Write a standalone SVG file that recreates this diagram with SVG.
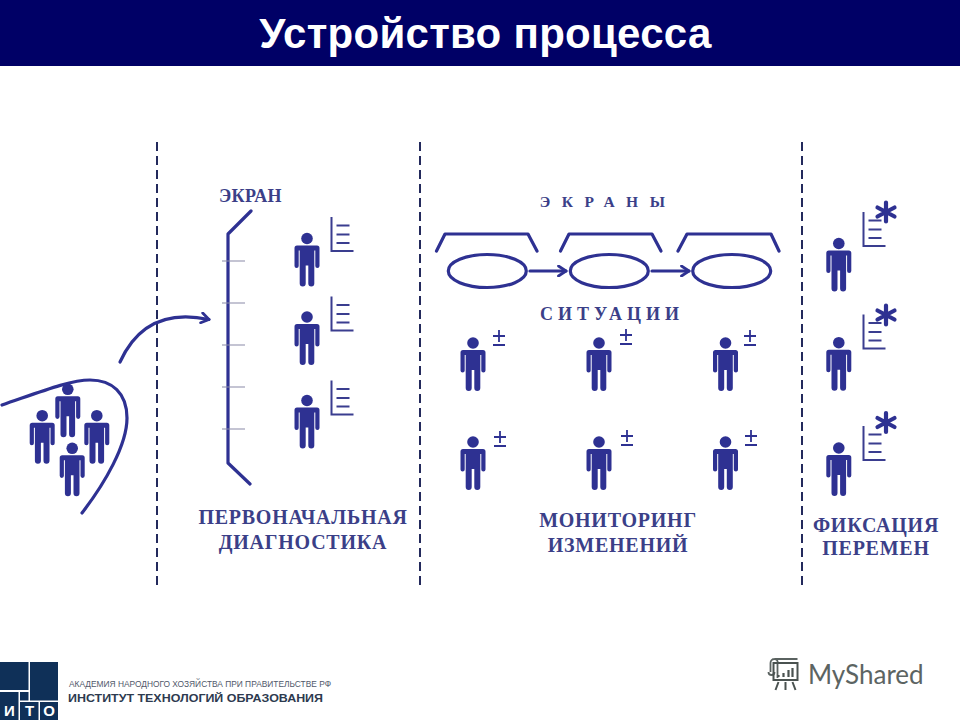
<svg xmlns="http://www.w3.org/2000/svg" width="960" height="720" viewBox="0 0 960 720">
<style>
.ink{fill:none;stroke:#2e3192;stroke-width:3.2;stroke-linecap:round;stroke-linejoin:round}
.tick{stroke:#8a8aa8;stroke-width:1.2;fill:none}
.dash{stroke:#232a5c;stroke-width:2;stroke-dasharray:9 5;fill:none}
.chart{fill:none;stroke:#3a3d8f;stroke-width:2}
.lab{font-family:"Liberation Serif",serif;font-weight:bold;fill:#3b3f88;text-anchor:middle}
.big{font-size:20px;letter-spacing:.75px}
.pm{fill:none;stroke:#2e3192;stroke-width:1.8}
.logo{fill:#0f3058}
.lt{font-family:"Liberation Sans",sans-serif;font-weight:bold;fill:#fff;font-size:15px;text-anchor:middle}
</style>
<defs>
<g id="person" fill="#2e3192">
<circle cx="0" cy="0" r="5.800"/>
<path d="M-12.500 9.500a2.500 2.500 0 0 1 2.500-2.500h20a2.500 2.500 0 0 1 2.500 2.500v18a2.100 2.100 0 0 1-4.200 0v-15.500h-1v33a3 3 0 0 1-6 0v-18h-2.600v18a3 3 0 0 1-6 0v-33h-1v15.500a2.100 2.100 0 0 1-4.200 0z"/>
</g>
<g id="chart">
<path class="chart" d="M0 0V34H22"/>
<path class="chart" d="M5 8.500H18M5 17.500H18M5 26H18"/>
</g>
<g id="pm">
<path class="pm" d="M0-6V6M-6 0H6M-6 9H6"/>
</g>
<g id="star" fill="none" stroke="#2e3192" stroke-width="4.200" stroke-linecap="round">
<path d="M0-9.500V9.500M-8.500-4.500L8.500 4.500M-8.500 4.500L8.500-4.500"/>
</g>
<marker id="ah" viewBox="0 0 12 12" refX="10.500" refY="6" markerWidth="12" markerHeight="12" markerUnits="userSpaceOnUse" orient="auto">
<path d="M3 1L10.500 6L3 11" fill="none" stroke="#2e3192" stroke-width="2.800" stroke-linecap="round" stroke-linejoin="round"/>
</marker>
</defs>
<rect width="960" height="720" fill="#fff"/>
<g id="header">
<rect width="960" height="66" fill="#000066"/>
<text x="485.500" y="48" font-family="Liberation Sans, sans-serif" font-weight="bold" font-size="42" letter-spacing=".28" fill="#fff" text-anchor="middle">Устройство процесса</text>
</g>
<g id="connectors">
<path class="dash" d="M157 142V585"/>
<path class="dash" d="M420 142V585"/>
<path class="dash" d="M802 142V585"/>
<path class="ink" d="M120 362C134 331 160 309 209 319.500" marker-end="url(#ah)"/>
<path class="ink" d="M530 271H566" marker-end="url(#ah)"/>
<path class="ink" d="M652 271H689" marker-end="url(#ah)"/>
</g>
<g id="group-left">
<path class="ink" d="M2 405C40 392 70 380 90 380C112 380 127 393 127 418C127 445 105 483 82 513"/>
<use href="#person" x="67.800" y="389.300"/>
<use href="#person" x="42.200" y="415.700"/>
<use href="#person" x="96.800" y="415.700"/>
<use href="#person" x="72.200" y="448.300"/>
</g>
<g id="screen">
<text class="lab" x="250.500" y="202" font-size="18" letter-spacing=".4">ЭКРАН</text>
<path class="ink" d="M251 211L228 234V463L250 484"/>
<path class="tick" d="M222 261H245M222 303H245M222 345H245M222 387H245M222 429H245"/>
</g>
<g id="people-1">
<use href="#person" x="307" y="238.500"/>
<use href="#chart" x="331.500" y="217"/>
<use href="#person" x="307" y="317"/>
<use href="#chart" x="331.500" y="296.500"/>
<use href="#person" x="307" y="400.500"/>
<use href="#chart" x="331.500" y="380.500"/>
</g>
<g id="label-1">
<text class="lab big" x="303" y="524">ПЕРВОНАЧАЛЬНАЯ</text>
<text class="lab big" x="303" y="549">ДИАГНОСТИКА</text>
</g>
<g id="screens">
<text class="lab" x="608" y="207" font-size="15.500" letter-spacing="11.500">ЭКРАНЫ</text>
<path class="ink" d="M436.500 251L445 234H528L537 251"/>
<path class="ink" d="M560.500 251L569 234H652L661 251"/>
<path class="ink" d="M678 251L687 234H771L779 251"/>
<ellipse class="ink" cx="487.300" cy="271" rx="39" ry="16.500"/>
<ellipse class="ink" cx="609.300" cy="271" rx="39" ry="16.500"/>
<ellipse class="ink" cx="731.700" cy="271" rx="39" ry="16.500"/>
<text class="lab" x="612" y="320" font-size="18" letter-spacing="5">СИТУАЦИИ</text>
</g>
<g id="people-2">
<use href="#person" x="473" y="343"/>
<use href="#pm" x="499" y="336"/>
<use href="#person" x="599" y="343"/>
<use href="#pm" x="626" y="335"/>
<use href="#person" x="725.500" y="343"/>
<use href="#pm" x="750" y="336"/>
<use href="#person" x="473" y="442"/>
<use href="#pm" x="500" y="437"/>
<use href="#person" x="599" y="442"/>
<use href="#pm" x="627" y="436"/>
<use href="#person" x="725.500" y="442"/>
<use href="#pm" x="751" y="436"/>
</g>
<g id="label-2">
<text class="lab big" x="618" y="527">МОНИТОРИНГ</text>
<text class="lab big" x="618" y="552">ИЗМЕНЕНИЙ</text>
</g>
<g id="people-3">
<use href="#person" x="838.800" y="243.500"/>
<use href="#chart" x="863.500" y="212"/>
<use href="#star" x="886" y="212"/>
<use href="#person" x="838.800" y="342.700"/>
<use href="#chart" x="863.500" y="314.500"/>
<use href="#star" x="886" y="315"/>
<use href="#person" x="838.800" y="448"/>
<use href="#chart" x="863.500" y="426"/>
<use href="#star" x="886" y="422.500"/>
</g>
<g id="label-3">
<text class="lab big" x="876" y="532">ФИКСАЦИЯ</text>
<text class="lab big" x="876" y="555">ПЕРЕМЕН</text>
</g>
<g id="logo-ito">
<rect class="logo" x="0" y="662" width="28.500" height="28"/>
<rect class="logo" x="30" y="662" width="28" height="38.500"/>
<rect class="logo" x="20" y="692" width="8.500" height="8.500"/>
<rect class="logo" x="0" y="692" width="18.500" height="28"/>
<rect class="logo" x="20" y="702" width="18.500" height="18"/>
<rect class="logo" x="40" y="702" width="18" height="18"/>
<text class="lt" x="9.500" y="716">И</text>
<text class="lt" x="29.500" y="716">Т</text>
<text class="lt" x="49" y="716">О</text>
<text x="69" y="687" font-family="Liberation Sans, sans-serif" font-size="8.200" fill="#50586a" textLength="262" lengthAdjust="spacingAndGlyphs">АКАДЕМИЯ НАРОДНОГО ХОЗЯЙСТВА ПРИ ПРАВИТЕЛЬСТВЕ РФ</text>
<text x="68" y="702" font-family="Liberation Sans, sans-serif" font-weight="bold" font-size="11.500" fill="#2d3a4f" textLength="255" lengthAdjust="spacingAndGlyphs">ИНСТИТУТ ТЕХНОЛОГИЙ ОБРАЗОВАНИЯ</text>
</g>
<g id="logo-myshared" transform="translate(-2.500 -1)">
<path d="M773 673V664a4 4 0 0 1 4-4H800M777 660a3 3 0 0 1 3 4V679M771 673a3 3 0 0 0 6 0" fill="none" stroke="#5a6260" stroke-width="1.800"/>
<rect x="776" y="664" width="24" height="17" fill="none" stroke="#4a5250" stroke-width="2"/>
<path d="M781 678v-2M786 678v-4M791 678v-7M795 678v-9" stroke="#4a5250" stroke-width="2.200" fill="none"/>
<path d="M781 683L778 691M788 683V691M795 683L798 691" stroke="#4a5250" stroke-width="2" fill="none"/>
<text x="810.500" y="685" font-family="Lato, sans-serif" font-size="26" fill="#5c6462">MyShared</text>
</g>
</svg>
